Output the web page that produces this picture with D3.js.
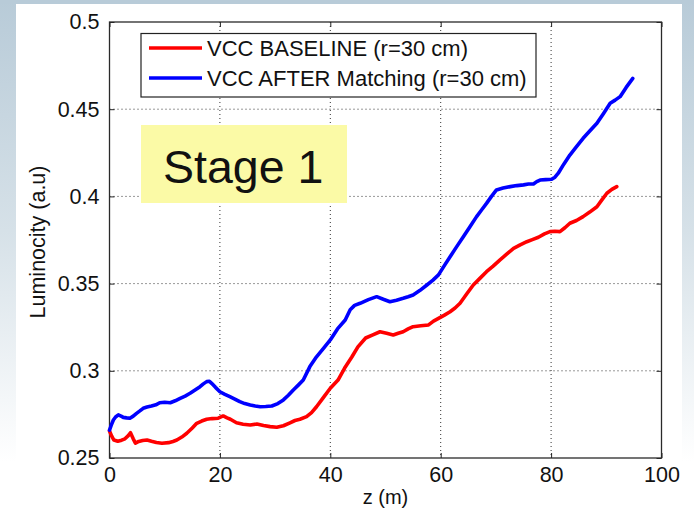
<!DOCTYPE html>
<html>
<head>
<meta charset="utf-8">
<script src="https://cdn.jsdelivr.net/npm/d3@7"></script>
<style>
  html, body { margin: 0; padding: 0; background: #fff; }
  svg { display: block; }
  text { font-family: "Liberation Sans", Arial, sans-serif; fill: #111; }
</style>
</head>
<body>
<svg id="chart" width="694" height="513"></svg>
<script>
// Luminosity along z for the two VCC configurations
const baseZ = [0, 0.4, 0.8, 1.5, 2.2, 2.8, 3.4, 3.8, 4.3, 4.7,
  5.3, 6.0, 6.8, 7.6, 8.5, 9.5, 10.7, 11.5, 12.2, 13.1,
  14.0, 15.0, 15.8, 16.7, 17.6, 18.6, 19.7, 20.6, 21.3, 21.9,
  23.0, 24.2, 25.5, 26.7, 27.9, 29.1, 30.3, 31.5, 32.7, 33.6,
  34.5, 35.7, 36.6, 37.5, 38.7, 40.0, 41.4, 42.6, 43.9, 45.0,
  46.4, 47.6, 49.0, 50.2, 51.4, 52.3, 53.2, 54.1, 55.0, 56.4,
  57.8, 58.7, 59.6, 60.6, 61.7, 62.6, 63.5, 64.7, 65.9, 67.1,
  68.3, 69.5, 70.7, 72.0, 73.2, 74.4, 75.6, 76.6, 77.7, 78.8,
  79.8, 80.7, 81.6, 82.5, 83.4, 84.6, 85.8, 87.0, 88.3, 89.2,
  90.1, 91.0, 91.9];
const baseLum = [0.2655, 0.2625, 0.2603, 0.2596, 0.2602, 0.2610, 0.2628, 0.2645, 0.2610, 0.2585,
  0.2595, 0.2600, 0.2603, 0.2596, 0.2589, 0.2585, 0.2588, 0.2595, 0.2603, 0.2620,
  0.2642, 0.2672, 0.2699, 0.2712, 0.2722, 0.2726, 0.2728, 0.2741, 0.2730, 0.2722,
  0.2702, 0.2694, 0.2689, 0.2695, 0.2686, 0.2680, 0.2676, 0.2685, 0.2702, 0.2715,
  0.2722, 0.2737, 0.2760, 0.2794, 0.2845, 0.2900, 0.2947, 0.3016, 0.3079, 0.3137,
  0.3188, 0.3205, 0.3224, 0.3215, 0.3205, 0.3215, 0.3224, 0.3240, 0.3253, 0.3258,
  0.3263, 0.3285, 0.3301, 0.3318, 0.3339, 0.3360, 0.3387, 0.3440, 0.3492, 0.3530,
  0.3568, 0.3600, 0.3635, 0.3670, 0.3702, 0.3722, 0.3740, 0.3752, 0.3766, 0.3785,
  0.3798, 0.3800, 0.3798, 0.3820, 0.3846, 0.3862, 0.3884, 0.3910, 0.3941, 0.3980,
  0.4018, 0.4040, 0.4056];

const matchZ = [0, 0.4, 0.7, 1.1, 1.6, 2.1, 2.5, 3.1, 3.7, 4.3,
  4.9, 5.5, 6.1, 6.8, 7.6, 8.4, 9.1, 10.0, 11.0, 11.9,
  12.8, 13.7, 14.6, 15.5, 16.4, 17.0, 17.6, 18.1, 18.5, 19.2,
  20.0, 20.9, 21.8, 22.7, 23.6, 24.5, 25.5, 26.4, 27.3, 28.3,
  29.4, 30.5, 31.5, 32.4, 33.3, 34.2, 35.1, 36.3, 37.5, 38.8,
  40.0, 41.3, 42.7, 43.6, 44.4, 45.4, 46.9, 48.4, 49.6, 50.8,
  52.0, 53.2, 54.1, 55.0, 56.2, 57.5, 58.6, 59.6, 60.6, 61.7,
  62.9, 64.1, 65.3, 66.5, 67.4, 68.3, 69.2, 70.1, 71.3, 72.6,
  73.8, 75.0, 75.9, 76.8, 77.4, 78.0, 79.0, 80.1, 80.7, 81.3,
  82.3, 83.4, 84.6, 85.8, 87.0, 88.3, 89.5, 90.7, 91.6, 92.5,
  93.6, 94.8];
const matchLum = [0.2660, 0.2695, 0.2718, 0.2735, 0.2747, 0.2740, 0.2733, 0.2730, 0.2728, 0.2740,
  0.2756, 0.2770, 0.2785, 0.2792, 0.2798, 0.2805, 0.2817, 0.2820, 0.2817, 0.2828,
  0.2842, 0.2855, 0.2871, 0.2890, 0.2909, 0.2925, 0.2938, 0.2940, 0.2928, 0.2905,
  0.2880, 0.2865, 0.2852, 0.2838, 0.2823, 0.2812, 0.2804, 0.2798, 0.2794, 0.2795,
  0.2798, 0.2812, 0.2833, 0.2860, 0.2890, 0.2918, 0.2947, 0.3024, 0.3080, 0.3130,
  0.3177, 0.3240, 0.3291, 0.3350, 0.3375, 0.3387, 0.3408, 0.3425, 0.3410, 0.3396,
  0.3405, 0.3416, 0.3425, 0.3435, 0.3460, 0.3492, 0.3520, 0.3550, 0.3600, 0.3654,
  0.3712, 0.3769, 0.3826, 0.3884, 0.3922, 0.3960, 0.4000, 0.4037, 0.4048, 0.4056,
  0.4062, 0.4066, 0.4071, 0.4071, 0.4085, 0.4094, 0.4096, 0.4098, 0.4110, 0.4133,
  0.4185, 0.4237, 0.4285, 0.4333, 0.4375, 0.4419, 0.4476, 0.4534, 0.4552, 0.4572,
  0.4625, 0.4677];

const xTicks = [0, 20, 40, 60, 80, 100];
const yTicks = [0.25, 0.3, 0.35, 0.4, 0.45, 0.5];
const seriesNames = ["VCC BASELINE (r=30 cm)", "VCC AFTER Matching (r=30 cm)"];
const seriesColors = ["#ff0000", "#0000ff"];
const stageLabel = "Stage 1";

const svg = d3.select("#chart");
const W = 694, H = 513;

// slide background: grey-blue fading to white, white content panel on top
const defs = svg.append("defs");
const grad = defs.append("linearGradient").attr("id", "bgGrad")
  .attr("x1", 0).attr("y1", 0).attr("x2", 0).attr("y2", 1);
grad.append("stop").attr("offset", "0%").attr("stop-color", "#b8cbd8");
grad.append("stop").attr("offset", "45%").attr("stop-color", "#d6e1e8");
grad.append("stop").attr("offset", "90%").attr("stop-color", "#ffffff");
svg.append("rect").attr("width", W).attr("height", H).attr("fill", "url(#bgGrad)");
svg.append("rect").attr("x", 0).attr("y", 0).attr("width", W).attr("height", 4).attr("fill", "#b8cbd8");
svg.append("rect").attr("x", 16).attr("y", 4).attr("width", 666).attr("height", H - 4).attr("fill", "#ffffff");

const m = { left: 109.5, top: 22, right: 661.5, bottom: 458 };
const x = d3.scaleLinear().domain([0, 100]).range([m.left, m.right]);
const y = d3.scaleLinear().domain([0.25, 0.5]).range([m.bottom, m.top]);

// dotted grid
const grid = svg.append("g");
grid.selectAll("line.gx").data(xTicks.slice(1, -1)).join("line")
  .attr("x1", d => x(d)).attr("x2", d => x(d)).attr("y1", m.top).attr("y2", m.bottom)
  .attr("stroke", "#333").attr("stroke-width", 1).attr("stroke-dasharray", "1,3");
grid.selectAll("line.gy").data(yTicks.slice(1, -1)).join("line")
  .attr("x1", m.left).attr("x2", m.right).attr("y1", d => y(d)).attr("y2", d => y(d))
  .attr("stroke", "#333").attr("stroke-width", 1).attr("stroke-dasharray", "1,3");

// axes with inward ticks
const fmtY = d => String(+d.toFixed(2));
const axB = svg.append("g").attr("transform", `translate(0,${m.bottom})`)
  .call(d3.axisBottom(x).tickValues(xTicks).tickSize(-5).tickPadding(9).tickFormat(d3.format("d")));
const axT = svg.append("g").attr("transform", `translate(0,${m.top})`)
  .call(d3.axisTop(x).tickValues(xTicks).tickSize(-5).tickFormat(""));
const axL = svg.append("g").attr("transform", `translate(${m.left},0)`)
  .call(d3.axisLeft(y).tickValues(yTicks).tickSize(-5).tickPadding(10).tickFormat(fmtY));
const axR = svg.append("g").attr("transform", `translate(${m.right},0)`)
  .call(d3.axisRight(y).tickValues(yTicks).tickSize(-5).tickFormat(""));
[axB, axT, axL, axR].forEach(g => {
  g.select(".domain").remove();
  g.selectAll(".tick line").attr("stroke", "#222");
  g.selectAll("text").attr("font-size", 21.5).attr("font-family", "Liberation Sans, Arial, sans-serif").attr("fill", "#111");
});
axB.selectAll("text").attr("dy", "0.71em");

// frame
svg.append("rect").attr("x", m.left).attr("y", m.top)
  .attr("width", m.right - m.left).attr("height", m.bottom - m.top)
  .attr("fill", "none").attr("stroke", "#2a2a2a").attr("stroke-width", 1.3);

// curves
const line = d3.line().x(d => x(d[0])).y(d => y(d[1]));
const series = [d3.zip(baseZ, baseLum), d3.zip(matchZ, matchLum)];
svg.append("g").selectAll("path").data(series).join("path")
  .attr("d", line).attr("fill", "none")
  .attr("stroke", (d, i) => seriesColors[i]).attr("stroke-width", 3.6)
  .attr("stroke-linejoin", "round").attr("stroke-linecap", "round");

// axis titles
svg.append("text").attr("x", x(50)).attr("y", 504).attr("text-anchor", "middle")
  .attr("font-size", 20).text("z (m)");
svg.append("text").attr("transform", `translate(45,${y(0.375) + 2}) rotate(-90)`)
  .attr("text-anchor", "middle").attr("font-size", 21.5).text("Luminocity (a.u)");

// legend
const lg = svg.append("g");
lg.append("rect").attr("x", 141).attr("y", 33.5).attr("width", 395).attr("height", 63.5)
  .attr("fill", "#fff").attr("stroke", "#222").attr("stroke-width", 1.2);
seriesNames.forEach((name, i) => {
  const ly = 48 + i * 30;
  lg.append("line").attr("x1", 149).attr("x2", 202).attr("y1", ly).attr("y2", ly)
    .attr("stroke", seriesColors[i]).attr("stroke-width", 3.6);
  lg.append("text").attr("x", 207).attr("y", ly + 7.5).attr("font-size", 22).text(name);
});

// stage tag
svg.append("rect").attr("x", 141).attr("y", 125).attr("width", 206).attr("height", 78)
  .attr("fill", "#fbfaa6");
svg.append("text").attr("x", 163).attr("y", 183).attr("font-size", 46.5).text(stageLabel);
</script>
</body>
</html>
